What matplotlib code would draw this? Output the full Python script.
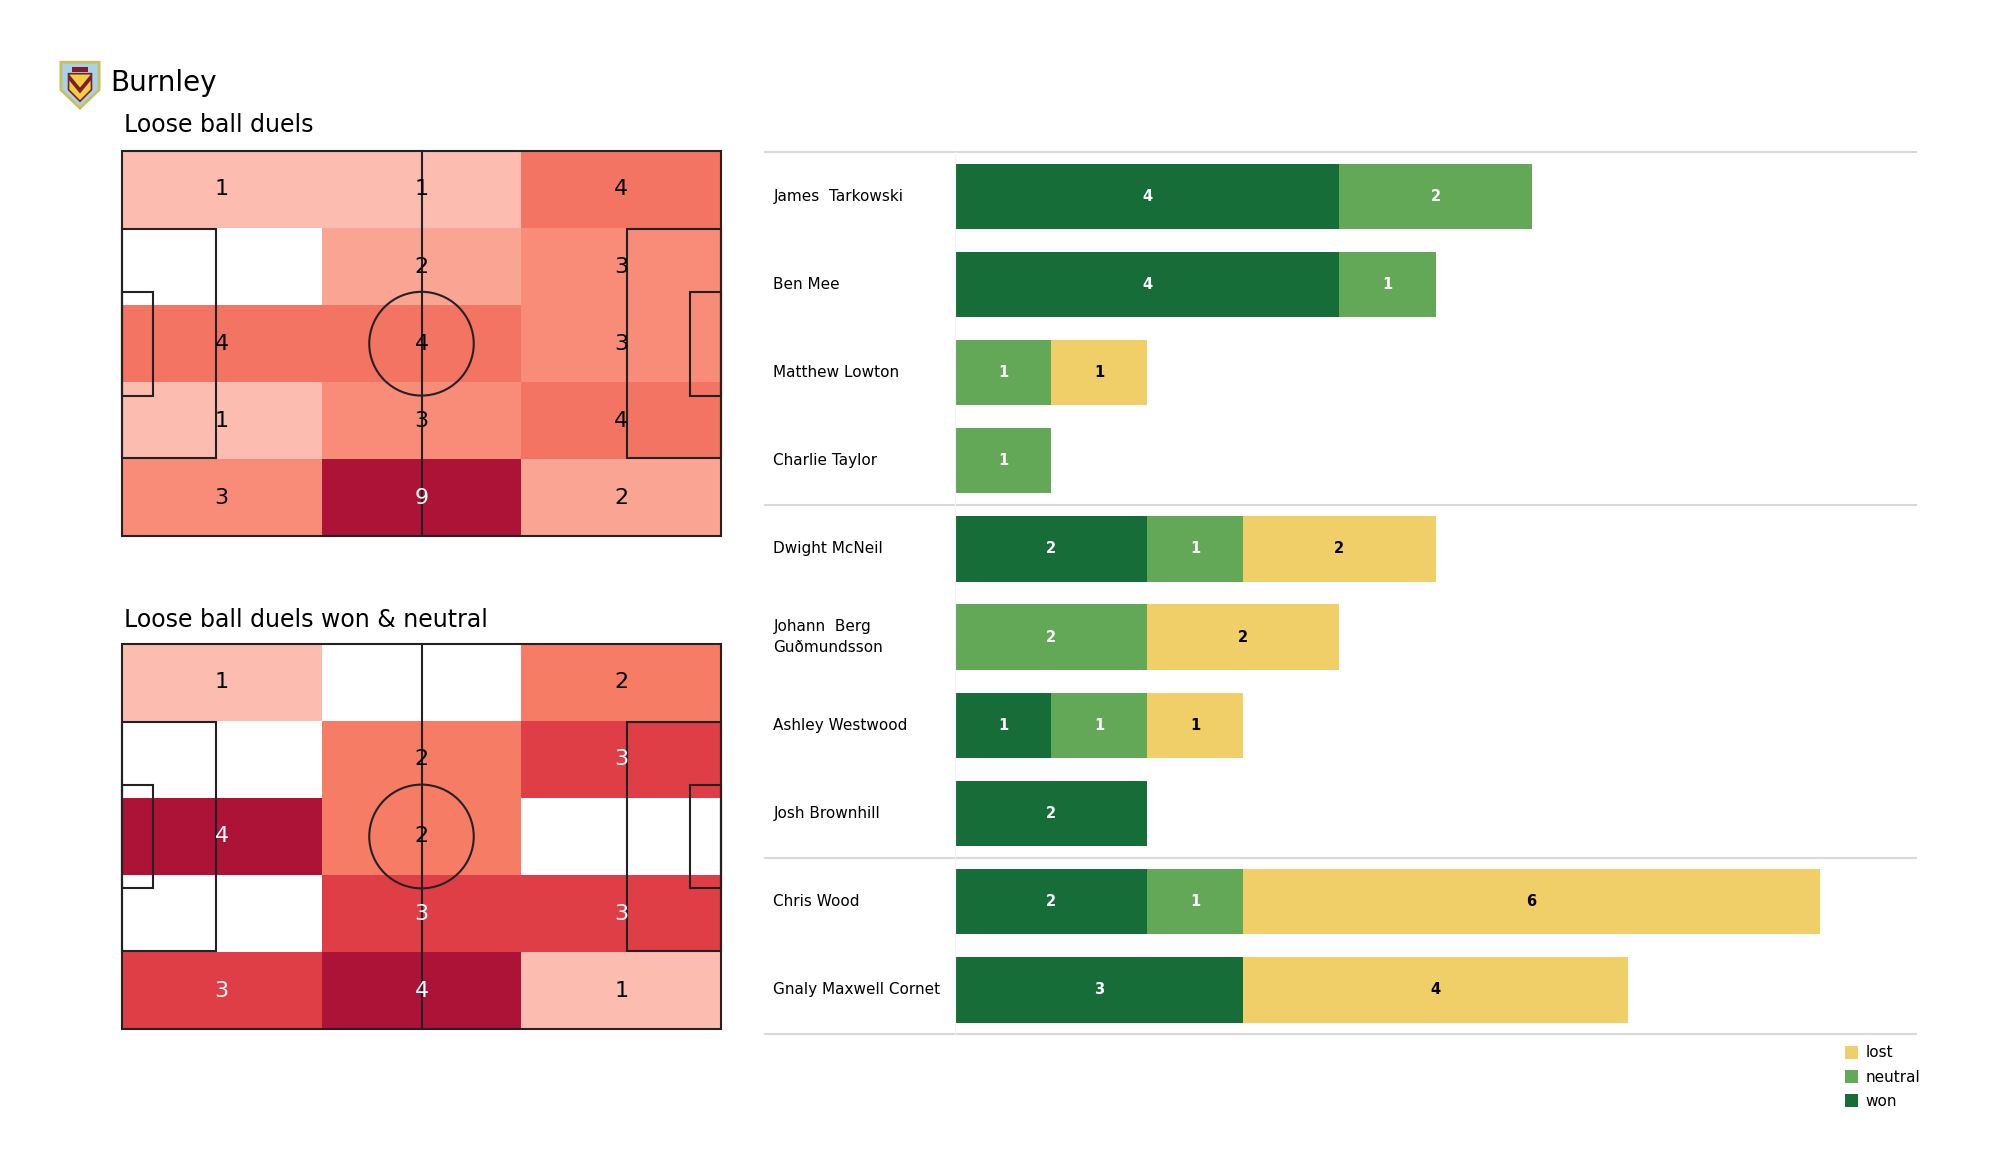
import matplotlib
matplotlib.use("Agg")
import matplotlib.pyplot as plt
import numpy as np
from matplotlib.colors import LinearSegmentedColormap
from matplotlib.patches import Rectangle, Circle, Polygon

# heatmap counts, rows from top of the pitch, 3 zones wide
duels_all = [[1, 1, 4],
             [0, 2, 3],
             [4, 4, 3],
             [1, 3, 4],
             [3, 9, 2]]
duels_won_neutral = [[1, 0, 2],
                     [0, 2, 3],
                     [4, 2, 0],
                     [0, 3, 3],
                     [3, 4, 1]]

players = ["James  Tarkowski", "Ben Mee", "Matthew Lowton", "Charlie Taylor",
           "Dwight McNeil", "Johann  Berg\nGuðmundsson", "Ashley Westwood",
           "Josh Brownhill", "Chris Wood", "Gnaly Maxwell Cornet"]
won = [4, 4, 0, 0, 2, 0, 1, 2, 2, 3]
neutral = [2, 1, 1, 1, 1, 2, 1, 0, 1, 0]
lost = [0, 0, 1, 0, 2, 2, 1, 0, 6, 4]
group_breaks = [3.5, 7.5]

c_won, c_neutral, c_lost = "#166d38", "#62a857", "#f0cf68"
heat_cmap = LinearSegmentedColormap.from_list(
    "duels", ["#fdbcb0", "#f67c66", "#e03e46", "#ad1237"])

L, W = 105, 68


def draw_pitch(ax, counts):
    counts = np.array(counts, dtype=float)
    nz = counts[counts > 0]
    vmin, vmax = nz.min(), nz.max()
    nrow, ncol = counts.shape
    cw, ch = L / ncol, W / nrow
    for r in range(nrow):
        for c in range(ncol):
            v = counts[r, c]
            x0 = c * cw
            y0 = W - (r + 1) * ch
            if v > 0:
                t = (v - vmin) / (vmax - vmin)
                ax.add_patch(Rectangle((x0, y0), cw, ch, color=heat_cmap(t), lw=0, zorder=1))
                ax.text(x0 + cw / 2, y0 + ch / 2, f"{int(v)}", ha="center", va="center",
                        fontsize=16, color="white" if t > 0.5 else "black", zorder=4)
    lc = "#222222"
    lw = 1.5
    ax.add_patch(Rectangle((0, 0), L, W, fill=False, ec=lc, lw=lw, zorder=3))
    ax.plot([L / 2, L / 2], [0, W], color=lc, lw=lw, zorder=3)
    ax.add_patch(Circle((L / 2, W / 2), 9.15, fill=False, ec=lc, lw=lw, zorder=3))
    for side in (0, 1):
        bx = 0 if side == 0 else L - 16.5
        ax.add_patch(Rectangle((bx, W / 2 - 20.16), 16.5, 40.32, fill=False, ec=lc, lw=lw, zorder=3))
        sx = 0 if side == 0 else L - 5.5
        ax.add_patch(Rectangle((sx, W / 2 - 9.16), 5.5, 18.32, fill=False, ec=lc, lw=lw, zorder=3))
    ax.set_xlim(-0.3, L + 0.3)
    ax.set_ylim(-0.3, W + 0.3)
    ax.axis("off")


fig = plt.figure(figsize=(20, 11.75), dpi=100)

# logo
lax = fig.add_axes([0.0295, 0.906, 0.021, 0.043])
lax.add_patch(Polygon([[0, 1], [1, 1], [1, 0.4], [0.5, 0], [0, 0.4]], closed=True,
                      fc="#a9d3e3", ec="#c8c060", lw=2))
lax.add_patch(Polygon([[0.2, 0.75], [0.8, 0.75], [0.8, 0.4], [0.5, 0.15], [0.2, 0.4]], closed=True,
                      fc="#f2cf3c", ec="#7a1f32", lw=1.2))
lax.add_patch(Polygon([[0.2, 0.75], [0.5, 0.45], [0.8, 0.75], [0.8, 0.62], [0.5, 0.32], [0.2, 0.62]],
                      closed=True, fc="#7a1f32", lw=0))
lax.add_patch(Rectangle((0.3, 0.78), 0.4, 0.12, fc="#7a1f32", lw=0))
lax.set_xlim(-0.05, 1.05)
lax.set_ylim(-0.05, 1.05)
lax.axis("off")

fig.text(0.055, 0.929, "Burnley", fontsize=20, va="center", ha="left")
fig.text(0.062, 0.894, "Loose ball duels", fontsize=17, va="center", ha="left")
fig.text(0.062, 0.472, "Loose ball duels won & neutral", fontsize=17, va="center", ha="left")

ax1 = fig.add_axes([0.06, 0.542, 0.3015, 0.331])
draw_pitch(ax1, duels_all)
ax2 = fig.add_axes([0.06, 0.1226, 0.3015, 0.331])
draw_pitch(ax2, duels_won_neutral)

# stacked bars
bx = fig.add_axes([0.4775, 0.12, 0.4805, 0.7506])
y = np.arange(len(players))
won_a, neu_a, lost_a = np.array(won), np.array(neutral), np.array(lost)
bx.barh(y, won_a, height=0.74, color=c_won, label="won")
bx.barh(y, neu_a, left=won_a, height=0.74, color=c_neutral, label="neutral")
bx.barh(y, lost_a, left=won_a + neu_a, height=0.74, color=c_lost, label="lost")
for i in range(len(players)):
    segs = [(won_a[i], 0, "white"), (neu_a[i], won_a[i], "white"),
            (lost_a[i], won_a[i] + neu_a[i], "black")]
    for val, start, col in segs:
        if val > 0:
            bx.text(start + val / 2, i, str(val), ha="center", va="center",
                    fontsize=10.5, fontweight="bold", color=col)
    bx.text(-1.89, i, players[i], ha="left", va="center", fontsize=11, linespacing=1.5)

bx.set_xlim(0, 10)
bx.set_ylim(9.5, -0.5)
for yl in [-0.5] + group_breaks + [9.5]:
    bx.plot([-1.98, 10], [yl, yl], color="#d9d9d9", lw=1.5, clip_on=False)
for s in ["top", "right", "bottom"]:
    bx.spines[s].set_visible(False)
bx.spines["left"].set_color("#f2f2f2")
bx.set_xticks([])
bx.set_yticks([])

h, l = bx.get_legend_handles_labels()
fig.legend(h[::-1], l[::-1], loc="upper right", bbox_to_anchor=(0.967, 0.122),
           frameon=False, fontsize=11, handlelength=0.85, handleheight=0.95,
           handletextpad=0.5, labelspacing=0.6)

fig.savefig("out.png", dpi=100)
